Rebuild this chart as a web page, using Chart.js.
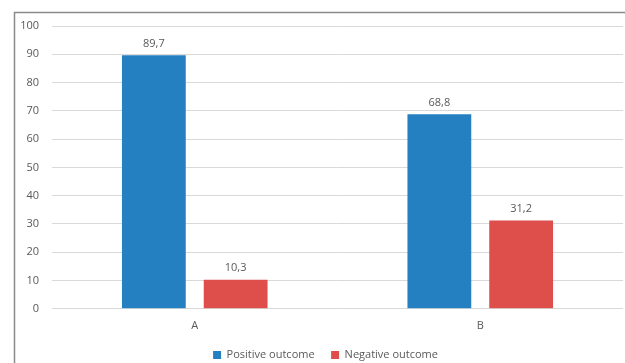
<!DOCTYPE html>
<html>
<head>
<meta charset="utf-8">
<script src="https://cdn.jsdelivr.net/npm/chart.js@4/dist/chart.umd.min.js"></script>
<style>
  html, body { margin: 0; padding: 0; background: #fff; }
  #wrap { width: 625px; height: 363px; position: relative; }
</style>
</head>
<body>
<div id="wrap"><canvas id="outcomes"></canvas></div>
<script>
/* global Chart */

const categories = ['A', 'B'];
const positiveOutcome = [89.7, 68.8];
const negativeOutcome = [10.3, 31.2];
const yTicks = [0, 10, 20, 30, 40, 50, 60, 70, 80, 90, 100];

const TEXT = '#595959';
const FONT = { family: "'Open Sans', 'Noto Sans', sans-serif", size: 11 };

// Values drawn above each bar, with a decimal comma
const valueLabels = {
  id: 'valueLabels',
  afterDatasetsDraw(chart) {
    const ctx = chart.ctx;
    ctx.save();
    ctx.fillStyle = TEXT;
    ctx.font = `${FONT.size}px ${FONT.family}`;
    ctx.textAlign = 'center';
    ctx.textBaseline = 'bottom';
    chart.data.datasets.forEach((ds, i) => {
      chart.getDatasetMeta(i).data.forEach((bar, j) => {
        const text = ds.data[j].toFixed(1).replace('.', ',');
        ctx.fillText(text, bar.x, bar.y - 6);
      });
    });
    ctx.restore();
  }
};

// Thin frame round the chart; the legend is centred on the frame, not the canvas
const frame = {
  id: 'frame',
  afterLayout(chart) {
    const lg = chart.legend;
    lg.left += 14;
    lg.right += 14;
    lg.top -= 1;
    lg.bottom -= 1;
  },
  beforeDraw(chart) {
    const ctx = chart.ctx;
    ctx.save();
    ctx.strokeStyle = '#8a8a8a';
    ctx.lineWidth = 1.5;
    ctx.strokeRect(14.5, 12.5, chart.width, chart.height);
    ctx.restore();
  }
};

new Chart(document.getElementById('outcomes'), {
  type: 'bar',
  data: {
    labels: categories,
    datasets: [
      {
        label: 'Positive outcome',
        data: positiveOutcome,
        backgroundColor: '#2580C2',
        borderWidth: 0,
      },
      {
        label: 'Negative outcome',
        data: negativeOutcome,
        backgroundColor: '#DE4E4B',
        borderWidth: 0,
      },
    ],
  },
  options: {
    responsive: true,
    maintainAspectRatio: false,
    animation: false,
    layout: { padding: { left: 0, right: 2, top: 26, bottom: -8.5 } },
    categoryPercentage: 0.573,
    barPercentage: 0.78,
    plugins: {
      legend: {
        position: 'bottom',
        labels: {
          color: TEXT,
          font: FONT,
          boxWidth: 8,
          boxHeight: 8,
          padding: 16.5,
        },
      },
      tooltip: { enabled: false },
    },
    scales: {
      x: {
        grid: { display: false },
        border: { display: false },
        ticks: { color: TEXT, font: FONT, padding: 2 },
      },
      y: {
        min: 0,
        max: 100,
        afterBuildTicks: scale => { scale.ticks = yTicks.map(v => ({ value: v })); },
        afterFit: scale => { scale.width = 52; },
        grid: { color: '#d9d9d9', drawTicks: false },
        border: { display: false },
        ticks: { color: TEXT, font: FONT, padding: 13 },
      },
    },
  },
  plugins: [frame, valueLabels],
});
</script>
</body>
</html>
